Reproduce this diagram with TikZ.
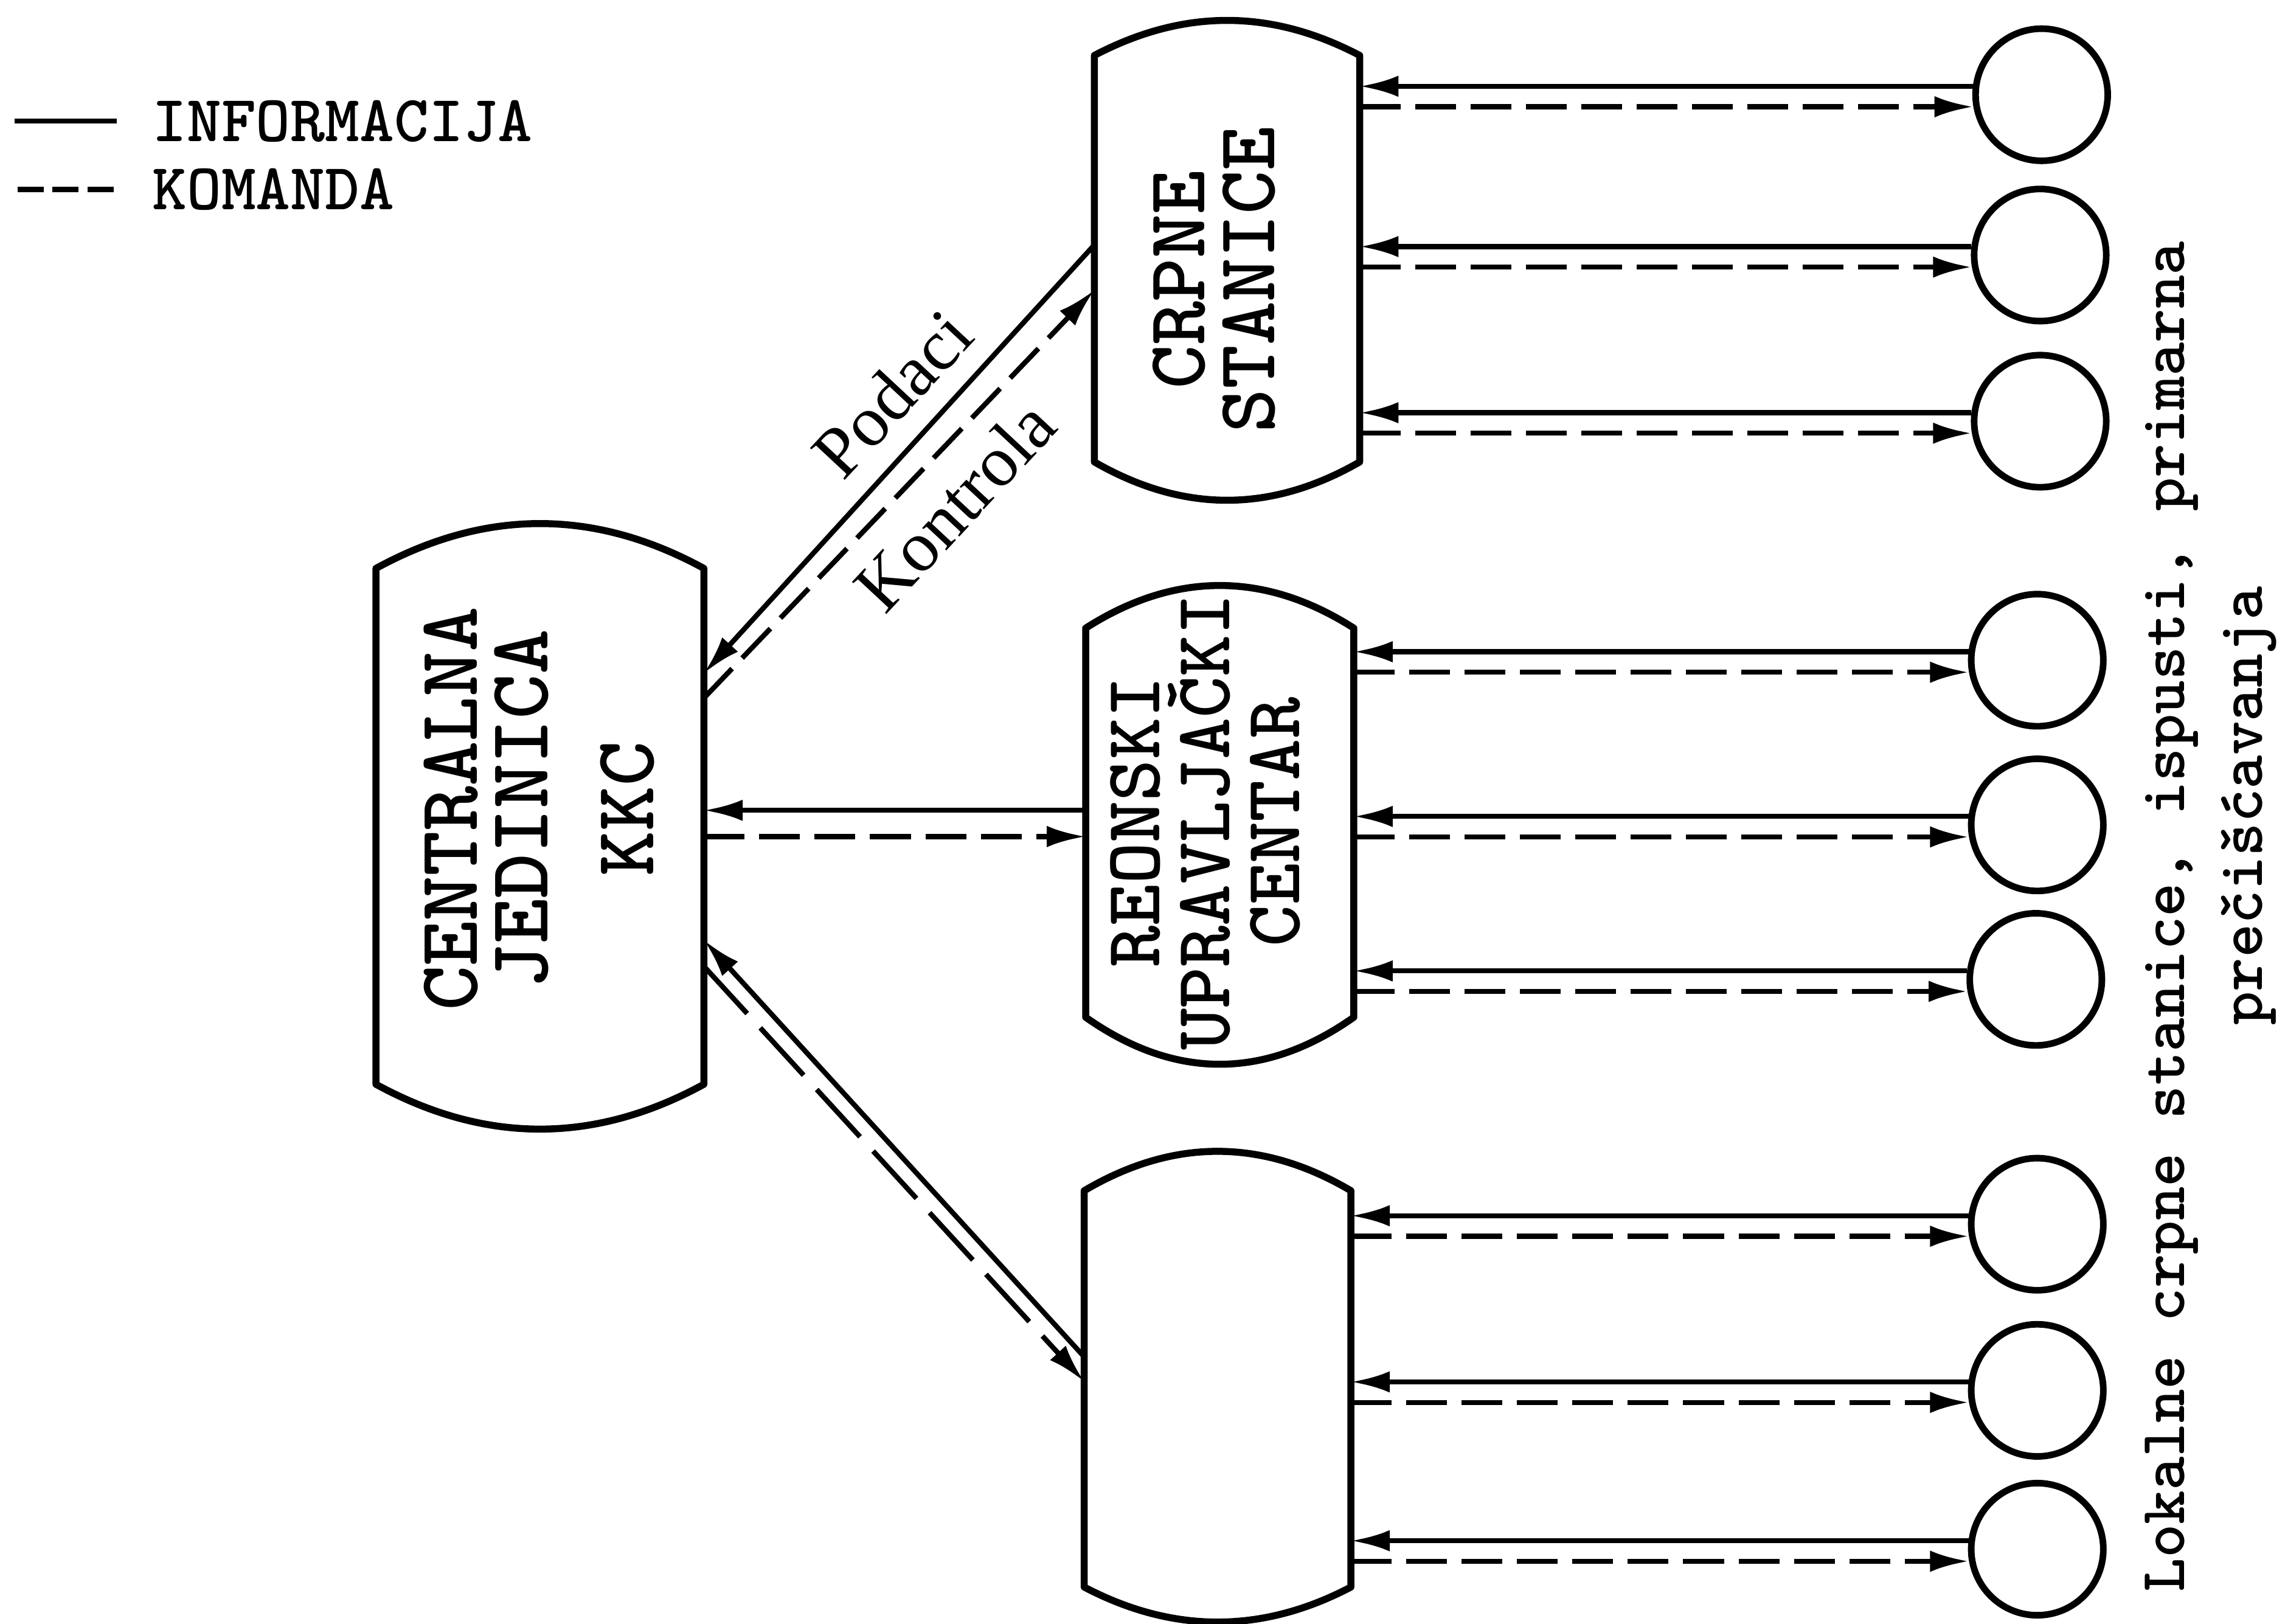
\documentclass[tikz,border=0pt]{standalone}
\usepackage{fontspec}
\setmainfont{Liberation Serif}
\usetikzlibrary{arrows.meta,calc}

\tikzset{every picture/.style={line width=0.75pt}}
\tikzset{
  blok/.style={inner sep=0pt, outer sep=0pt},
  okvir/.style={line width=3.6pt, line join=round},
  stanica/.style={circle, draw, line width=3.4pt, inner sep=0pt, minimum size=68pt},
  inf/.style={line width=2.6pt},
  kom/.style={line width=2.6pt, dash pattern=on 21pt off 7.5pt},
  vrh/.style={-{Latex[length=20pt,width=11pt]}},
  natpis/.style={rotate=90, align=center, inner sep=0pt, font=\ttfamily\bfseries\fontsize{42.9}{36}\selectfont},
  legenda/.style={anchor=west, inner sep=0pt, font=\ttfamily\bfseries\fontsize{33.9}{34}\selectfont},
  lokalne/.style={rotate=90, inner sep=0pt, font=\ttfamily\bfseries\fontsize{33.1}{34}\selectfont},
  oznaka/.style={inner sep=0pt, rotate=47, font=\fontsize{37}{40}\selectfont}
}

\begin{document}
\begin{tikzpicture}[x=0.75pt,y=0.75pt,yscale=-1,xscale=1]
\useasboundingbox (0,0) rectangle (1568,1114);

% Legend
\draw[inf] (10,83) -- (80,83);
\draw[inf, dash pattern=on 13.5pt off 4.5pt] (12,130) -- (78,130);
% Text Node
\node[legenda] (info) at (104,83) {INFORMACIJA};
% Text Node
\node[legenda] (komanda) at (104,130) {KOMANDA};

%Shape: Centralna jedinica
\node[blok, minimum width=168.75pt, minimum height=265.5pt] (kkc) at (370.5,567) {};
\draw[okvir] (kkc.south west) -- (kkc.north west) .. controls +(75,-41) and +(-75,-41) .. (kkc.north east) -- (kkc.south east) .. controls +(-75,41) and +(75,41) .. (kkc.south west) -- cycle;
% Text Node
\node[natpis, font=\ttfamily\bfseries\fontsize{44}{36.5}\selectfont] (kkctxt) at (370,555) {CENTRALNA\\JEDINICA\\[18pt]KKC};

%Shape: Crpne stanice
\node[blok, minimum width=136.5pt, minimum height=209.25pt] (crpne) at (842,177.5) {};
\draw[okvir] (crpne.south west) -- (crpne.north west) .. controls +(61,-32) and +(-61,-32) .. (crpne.north east) -- (crpne.south east) .. controls +(-61,35) and +(61,35) .. (crpne.south west) -- cycle;
% Text Node
\node[natpis] (crpnetxt) at (833,192) {CRPNE\\STANICE};

%Shape: Reonski centar
\node[blok, minimum width=138pt, minimum height=200.25pt] (reon) at (837,564.5) {};
\draw[okvir] (reon.south west) -- (reon.north west) .. controls +(61,-39) and +(-61,-39) .. (reon.north east) -- (reon.south east) .. controls +(-61,43) and +(61,43) .. (reon.south west) -- cycle;
% Text Node
\node[natpis, font=\ttfamily\bfseries\fontsize{40.7}{36}\selectfont] (reontxt) at (827,564) {REONSKI\\UPRAVLJAČKI\\CENTAR};

%Shape: Prazan blok
\node[blok, minimum width=137.25pt, minimum height=204pt] (lok) at (835.5,953) {};
\draw[okvir] (lok.south west) -- (lok.north west) .. controls +(61,-36) and +(-61,-36) .. (lok.north east) -- (lok.south east) .. controls +(-61,32) and +(61,32) .. (lok.south west) -- cycle;

%Shape: Circles
\node[stanica] (s1) at (1401,65) {};
\node[stanica] (s2) at (1400,175) {};
\node[stanica] (s3) at (1400,289) {};
\node[stanica] (s4) at (1398,453) {};
\node[stanica] (s5) at (1398,566) {};
\node[stanica] (s6) at (1397,672) {};
\node[stanica] (s7) at (1398,840) {};
\node[stanica] (s8) at (1398,954) {};
\node[stanica] (s9) at (1398,1063) {};

%Straight Lines
\draw[inf,vrh] (s1.173) -- (s1.173 -| crpne.east);
\draw[kom,vrh] (s1.190 -| crpne.east) -- (s1.190);
\draw[inf,vrh] (s2.173) -- (s2.173 -| crpne.east);
\draw[kom,vrh] (s2.190 -| crpne.east) -- (s2.190);
\draw[inf,vrh] (s3.173) -- (s3.173 -| crpne.east);
\draw[kom,vrh] (s3.190 -| crpne.east) -- (s3.190);
\draw[inf,vrh] (s4.173) -- (s4.173 -| reon.east);
\draw[kom,vrh] (s4.190 -| reon.east) -- (s4.190);
\draw[inf,vrh] (s5.173) -- (s5.173 -| reon.east);
\draw[kom,vrh] (s5.190 -| reon.east) -- (s5.190);
\draw[inf,vrh] (s6.173) -- (s6.173 -| reon.east);
\draw[kom,vrh] (s6.190 -| reon.east) -- (s6.190);
\draw[inf,vrh] (s7.173) -- (s7.173 -| lok.east);
\draw[kom,vrh] (s7.190 -| lok.east) -- (s7.190);
\draw[inf,vrh] (s8.173) -- (s8.173 -| lok.east);
\draw[kom,vrh] (s8.190 -| lok.east) -- (s8.190);
\draw[inf,vrh] (s9.173) -- (s9.173 -| lok.east);
\draw[kom,vrh] (s9.190 -| lok.east) -- (s9.190);

%Straight Lines
\draw[inf,vrh] ($(crpne.west)+(0,-9.5)$) -- ($(kkc.east)+(0,-105)$);
\draw[kom,vrh] ($(kkc.east)+(0,-88)$) -- ($(crpne.west)+(0,21.5)$);
\draw[inf,vrh] ($(kkc.east -| reon.west)+(0,-11)$) -- ($(kkc.east)+(0,-11)$);
\draw[kom,vrh] ($(kkc.east)+(0,7)$) -- ($(kkc.east -| reon.west)+(0,7)$);
\draw[inf,vrh] ($(lok.west)+(0,-22)$) -- ($(kkc.east)+(0,78)$);
\draw[kom,vrh, dash pattern=on 33pt off 10pt] ($(kkc.east)+(0,96)$) -- ($(lok.west)+(0,-5)$);

% Text Node
\node[oznaka] (podaci) at (612,270) {Podaci};
% Text Node
\node[oznaka] (kontrola) at (655,347) {Kontrola};

% Text Node
\node[lokalne] (opis1) at (1490,629) {Lokalne crpne stanice, ispusti, primarna};
% Text Node
\node[lokalne] (opis2) at (1543,553) {prečišćavanja};
\end{tikzpicture}
\end{document}
